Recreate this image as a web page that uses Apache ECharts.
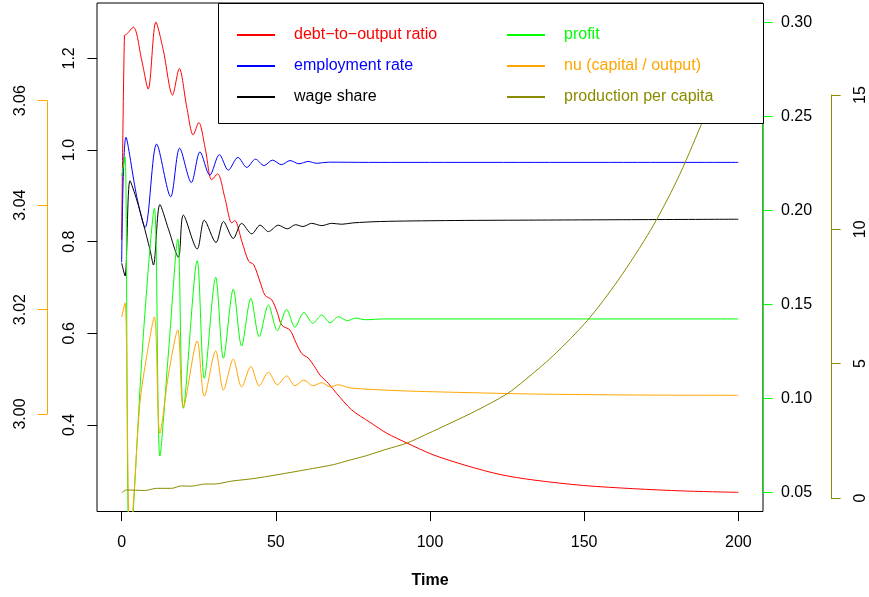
<!DOCTYPE html>
<html><head><meta charset="utf-8">
<script src="https://cdn.jsdelivr.net/npm/echarts@6/dist/echarts.min.js"></script>
<style>html,body{margin:0;padding:0;background:#fff}#c{width:869px;height:597px}</style>
</head><body><div id="c"></div>
<script>
// ---- data ----
const xTicks = [0, 50, 100, 150, 200];
const leftTicks = [0.4, 0.6, 0.8, 1.0, 1.2];

const debtT = [0, 0.9, 1.5, 3.8, 6.5, 8.6, 11.1, 13.5, 16.5, 18.7, 21.1, 23.2, 25.0, 27.2, 29.2, 31.1, 33.5, 35.7, 36.7, 39.0, 41.2, 42.8, 45.0, 46.5, 48.7, 50.5, 51.9, 54.6, 56.5, 58.4, 60.5, 62.5, 64.3, 67.0, 69.7, 74.6, 80.5, 86.0, 92.4, 101.0, 112.0, 122.7, 133.5, 149.7, 166.0, 182.2, 200];
const debtV = [0.804, 1.250, 1.252, 1.268, 1.196, 1.133, 1.279, 1.218, 1.120, 1.178, 1.094, 1.033, 1.060, 1.000, 0.935, 0.948, 0.895, 0.841, 0.846, 0.800, 0.757, 0.750, 0.710, 0.683, 0.673, 0.645, 0.618, 0.607, 0.580, 0.556, 0.546, 0.528, 0.509, 0.491, 0.469, 0.433, 0.406, 0.382, 0.361, 0.335, 0.311, 0.292, 0.280, 0.268, 0.261, 0.256, 0.253];

const empT = [0, 1.4, 4.9, 7.6, 11.35, 15.9, 18.8, 22.6, 25.4, 28.6, 31.7, 34.6, 37.7, 40.6, 43.4, 46.2, 48.9, 51.8, 54.6, 57.5, 60.5, 63.3, 67, 80, 200];
const empV = [0.755, 1.028, 0.898, 0.831, 1.013, 0.898, 1.004, 0.929, 0.996, 0.945, 0.990, 0.956, 0.984, 0.962, 0.980, 0.966, 0.978, 0.968, 0.977, 0.970, 0.975, 0.971, 0.9735, 0.973, 0.973];

const wageT = [0, 1.1, 2.7, 4.9, 7.0, 9.2, 10.3, 12.4, 15.1, 18.4, 20.0, 24.5, 26.8, 30.6, 33.0, 36.2, 38.9, 42.2, 44.9, 47.6, 50.8, 53.7, 56.4, 58.8, 61.6, 64.9, 68.1, 71.4, 75, 84, 105, 132, 200];
const wageV = [0.753, 0.725, 0.933, 0.891, 0.840, 0.782, 0.749, 0.881, 0.829, 0.766, 0.858, 0.784, 0.847, 0.798, 0.844, 0.807, 0.840, 0.817, 0.836, 0.822, 0.836, 0.828, 0.837, 0.833, 0.840, 0.835, 0.840, 0.838, 0.841, 0.844, 0.846, 0.847, 0.849];

const profitT = [0, 1.1, 2.6, 7.0, 10.6, 12.4, 15.3, 18.2, 20.0, 24.5, 26.8, 30.5, 33.0, 36.2, 38.9, 41.9, 44.6, 47.6, 50.5, 53.5, 56.2, 59.1, 62.0, 64.9, 67.6, 70.3, 73.2, 76.0, 79.0, 85, 200];
const profitV = [0.218, 0.2285, 0.015, 0.133, 0.201, 0.0693, 0.127, 0.1847, 0.0947, 0.1732, 0.1106, 0.1644, 0.1213, 0.158, 0.1278, 0.1532, 0.1328, 0.1496, 0.136, 0.1473, 0.1378, 0.1457, 0.1399, 0.1443, 0.1402, 0.1434, 0.1413, 0.1427, 0.1418, 0.1422, 0.1422];

const nuT = [0, 1.1, 2.6, 3.8, 5.9, 8.1, 10.6, 12.4, 15.3, 18.2, 20.0, 24.5, 26.8, 30.5, 33.0, 36.2, 38.9, 41.9, 44.6, 47.6, 50.5, 53.5, 56.2, 59.1, 62.0, 64.9, 67.6, 70.3, 74, 90.3, 112, 133.5, 166, 200];
const nuV = [3.0186, 3.0213, 2.976, 2.9829, 3.0020, 3.0110, 3.0186, 2.9963, 3.0080, 3.0161, 3.0013, 3.0140, 3.0034, 3.0121, 3.0046, 3.0105, 3.0052, 3.0091, 3.0054, 3.0080, 3.0056, 3.0073, 3.0054, 3.0065, 3.0054, 3.0060, 3.0052, 3.0056, 3.0050, 3.00446, 3.0041, 3.00383, 3.00364, 3.00358];

const ppcT = [0, 1.6, 7.5, 11.3, 16.2, 19.4, 22.5, 27, 30, 35.7, 43.2, 56.2, 62, 68.6, 74, 79.5, 86, 92.4, 99, 106.5, 115, 124.9, 130.8, 140, 151, 161, 171.7, 180, 188, 194, 200];
const ppcV = [0.197, 0.30, 0.28, 0.36, 0.36, 0.45, 0.44, 0.52, 0.52, 0.63, 0.73, 0.98, 1.10, 1.24, 1.41, 1.58, 1.82, 2.04, 2.38, 2.78, 3.25, 3.87, 4.39, 5.30, 6.60, 8.10, 10.0, 11.8, 13.9, 15.6, 17.7];

const names = ['debt\u2212to\u2212output ratio', 'employment rate', 'wage share', 'profit', 'nu (capital / output)', 'production per capita'];
const colors = ['#FF0000', '#0000FF', '#000000', '#00FF00', '#FFA500', '#8B8B00'];

// ---- chart ----
const FONT = '"Liberation Sans", Arial, Helvetica, sans-serif';
const pairs = (t, v) => t.map((x, i) => [x, v[i]]);
const chart = echarts.init(document.getElementById('c'), null, {renderer: 'canvas'});

function lineSeries(i, yIdx, t, v) {
  return {
    type: 'line', name: names[i], xAxisIndex: 0, yAxisIndex: yIdx, z: 2,
    data: pairs(t, v), symbol: 'none', smooth: 0.3, clip: true,
    lineStyle: {color: colors[i], width: 1}, itemStyle: {color: colors[i]},
    emphasis: {disabled: true}
  };
}
const baseLabel = {fontSize: 16, color: '#000', fontFamily: FONT};

function legendCol(left, idx) {
  return {left: left, top: 22, orient: 'vertical', itemWidth: 38, itemHeight: 14, itemGap: 15, z: 20,
    selectedMode: false, itemStyle: {opacity: 0},
    textStyle: {fontSize: 16, fontFamily: FONT, padding: [0, 0, 0, 14]},
    data: idx.map(i => ({name: names[i], textStyle: {color: colors[i]}}))};
}

const option = {
  animation: false,
  backgroundColor: '#fff',
  grid: [
    {left: 97, right: 106, top: 3, bottom: 85.5, show: true, borderColor: '#000', borderWidth: 1},
    {left: 47, width: 10, top: 100.7, bottom: 183},
    {left: 753, width: 10, top: 22.3, bottom: 104.7},
    {left: 822, width: 10, top: 95, bottom: 99}
  ],
  xAxis: [
    {gridIndex: 0, type: 'value', min: -8, max: 208,
     axisLine: {show: false, onZero: false}, splitLine: {show: false},
     axisTick: {show: true, customValues: xTicks, length: 9.6, lineStyle: {color: '#000'}},
     axisLabel: Object.assign({customValues: xTicks, margin: 23}, baseLabel),
     name: 'Time', nameLocation: 'middle', nameGap: 61,
     nameTextStyle: {fontSize: 16, fontWeight: 'bold', color: '#000', fontFamily: FONT}},
    {gridIndex: 1, type: 'value', show: false},
    {gridIndex: 2, type: 'value', show: false},
    {gridIndex: 3, type: 'value', show: false}
  ],
  yAxis: [
    {gridIndex: 0, type: 'value', min: 0.2112, max: 1.3208, position: 'left',
     axisLine: {show: false, onZero: false}, splitLine: {show: false},
     axisTick: {show: true, customValues: leftTicks, length: 9.6, lineStyle: {color: '#000'}},
     axisLabel: Object.assign({customValues: leftTicks, rotate: 90, margin: 19, formatter: v => v.toFixed(1)}, baseLabel)},
    {gridIndex: 0, type: 'value', min: 2.98133, max: 3.07871, show: false},
    {gridIndex: 0, type: 'value', min: 0.03979, max: 0.31027, show: false},
    {gridIndex: 0, type: 'value', min: -0.502, max: 18.42, show: false},
    {gridIndex: 1, type: 'value', min: 3.00, max: 3.06, interval: 0.02, position: 'left',
     axisLine: {show: true, onZero: false, lineStyle: {color: '#FFA500', width: 1}}, splitLine: {show: false},
     axisTick: {show: true, length: 9.6, lineStyle: {color: '#FFA500'}},
     axisLabel: Object.assign({rotate: 90, margin: 18, formatter: v => v.toFixed(2)}, baseLabel)},
    {gridIndex: 2, type: 'value', min: 0.05, max: 0.30, interval: 0.05, position: 'right', z: 1,
     axisLine: {show: true, onZero: false, lineStyle: {color: '#00FF00', width: 1}}, splitLine: {show: false},
     axisTick: {show: true, length: 9.6, lineStyle: {color: '#00FF00'}},
     axisLabel: Object.assign({margin: 18, formatter: v => v.toFixed(2)}, baseLabel)},
    {gridIndex: 3, type: 'value', min: 0, max: 15, interval: 5, position: 'right',
     axisLine: {show: true, onZero: false, lineStyle: {color: '#8B8B00', width: 1}}, splitLine: {show: false},
     axisTick: {show: true, length: 9.6, lineStyle: {color: '#8B8B00'}},
     axisLabel: Object.assign({rotate: 90, margin: 22, formatter: v => String(v)}, baseLabel)}
  ],
  graphic: [
    {type: 'rect', z: 10, silent: true,
     shape: {x: 218.5, y: 3.5, width: 545, height: 120},
     style: {fill: '#fff', stroke: '#000', lineWidth: 1}}
  ],
  legend: [legendCol(231, [0, 1, 2]), legendCol(501, [3, 4, 5])],
  series: [
    lineSeries(0, 0, debtT, debtV),
    lineSeries(1, 0, empT, empV),
    lineSeries(2, 0, wageT, wageV),
    lineSeries(3, 2, profitT, profitV),
    lineSeries(4, 1, nuT, nuV),
    lineSeries(5, 3, ppcT, ppcV)
  ]
};
chart.setOption(option);
</script>
</body></html>
